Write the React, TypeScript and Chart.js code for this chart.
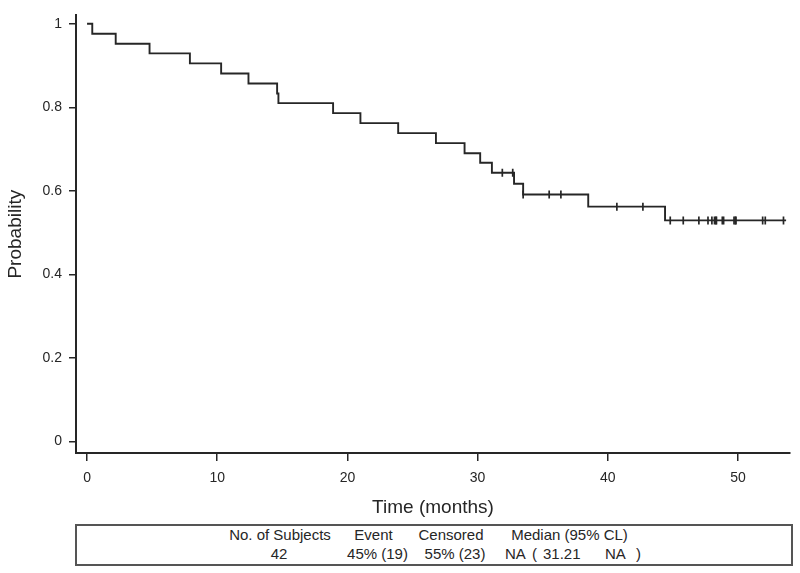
import React, { useEffect, useRef } from "react";
import { Chart, registerables } from "chart.js";

Chart.register(...registerables);

// Kaplan-Meier step points (time in months, survival probability)
const eventTimes = [0, 0.4, 2.2, 4.8, 7.9, 10.3, 12.4, 14.6, 14.7, 18.9, 21.0, 23.9, 26.8, 29.0, 30.2, 31.1, 32.8, 33.5, 38.5, 44.4, 53.7];
const survival = [1, 0.976, 0.952, 0.929, 0.905, 0.881, 0.857, 0.833, 0.81, 0.786, 0.762, 0.738, 0.714, 0.69, 0.667, 0.643, 0.617, 0.591, 0.562, 0.529, 0.529];

// Censored observations
const censorTimes = [31.9, 32.7, 33.5, 35.5, 36.4, 40.7, 42.7, 44.8, 45.8, 47.0, 47.7, 48.0, 48.2, 48.3, 48.35, 48.8, 48.9, 49.7, 49.8, 49.85, 51.9, 52.1, 53.5];
const censorSurvival = [0.643, 0.643, 0.591, 0.591, 0.591, 0.562, 0.562, 0.529, 0.529, 0.529, 0.529, 0.529, 0.529, 0.529, 0.529, 0.529, 0.529, 0.529, 0.529, 0.529, 0.529, 0.529, 0.529];

const xTicks = [0, 10, 20, 30, 40, 50];
const yTicks = [0, 0.2, 0.4, 0.6, 0.8, 1];
const xTitle = "Time (months)";
const yTitle = "Probability";

const tableHeaders = ["No. of Subjects", "Event", "Censored", "Median (95% CL)"];
const tableValues = ["42", "45% (19)", "55% (23)"];
const medianParts = ["NA", "(", "31.21", "NA", ")"];

const FONT = '"Liberation Sans", Arial, Helvetica, sans-serif';
const INK = "#262626";

// layout (pixel positions of the summary table)
const headerCenters = [280, 373.5, 451, 569.5];
const valueCenters = [279, 377.5, 455];
const medianLefts = [505, 532, 543, 605, 636];

export default function App() {
  const ref = useRef<HTMLCanvasElement>(null);

  useEffect(() => {
    const chart = new Chart(ref.current as HTMLCanvasElement, {
      type: "scatter",
      data: {
        datasets: [
          {
            data: eventTimes.map((t, i) => ({ x: t, y: survival[i] })),
            showLine: true,
            stepped: "before",
            borderColor: INK,
            borderWidth: 1.9,
            pointRadius: 0,
            pointHoverRadius: 0,
            fill: false,
          },
          {
            data: censorTimes.map((t, i) => ({ x: t, y: censorSurvival[i] })),
            showLine: false,
            pointStyle: "line",
            rotation: 90,
            pointRadius: 4,
            pointHoverRadius: 4,
            borderColor: INK,
            backgroundColor: INK,
            borderWidth: 1.7,
          },
        ],
      },
      options: {
        animation: false,
        responsive: false,
        maintainAspectRatio: false,
        events: [],
        layout: { padding: { left: 0, right: 10, top: 8.6, bottom: 0 } },
        plugins: { legend: { display: false }, tooltip: { enabled: false } },
        scales: {
          x: {
            type: "linear",
            min: -0.85,
            max: 54,
            afterBuildTicks: (s: any) => {
              s.ticks = xTicks.map((v) => ({ value: v }));
            },
            afterFit: (s: any) => {
              s.height = 67;
            },
            grid: { drawOnChartArea: false, drawTicks: true, tickLength: 8, color: INK, lineWidth: 1.5 },
            border: { display: true, color: INK, width: 2 },
            ticks: {
              padding: 8.5,
              color: INK,
              font: { family: FONT, size: 14 },
              maxRotation: 0,
              autoSkip: false,
              callback: (v: any) => String(v),
            },
            title: {
              display: true,
              text: xTitle,
              color: INK,
              font: { family: FONT, size: 19 },
              padding: { top: 0, bottom: 1 },
            },
          },
          y: {
            type: "linear",
            min: -0.028,
            max: 1.02,
            afterBuildTicks: (s: any) => {
              s.ticks = yTicks.map((v) => ({ value: v }));
            },
            afterFit: (s: any) => {
              s.width = 76;
            },
            grid: { drawOnChartArea: false, drawTicks: true, tickLength: 7, color: INK, lineWidth: 1.5 },
            border: { display: true, color: INK, width: 2 },
            ticks: {
              padding: 7,
              color: INK,
              font: { family: FONT, size: 14 },
              autoSkip: false,
              callback: (v: any) => String(v),
            },
            title: {
              display: true,
              text: yTitle,
              color: INK,
              font: { family: FONT, size: 19 },
              padding: { top: 4.6, bottom: 0 },
            },
          },
        },
      },
    } as any);
    return () => chart.destroy();
  }, []);

  const textStyle = (center: number, top: number): React.CSSProperties => ({
    position: "absolute",
    left: center,
    top,
    transform: "translateX(-50%)",
    whiteSpace: "pre",
    fontFamily: FONT,
    fontSize: 15,
    lineHeight: "16px",
    color: INK,
  });

  return (
    <div
      style={{
        position: "fixed",
        left: 0,
        top: 0,
        width: 800,
        height: 573,
        background: "#fff",
        overflow: "hidden",
      }}
    >
      <canvas ref={ref} width={800} height={520} style={{ display: "block", width: 800, height: 520 }} />
      <div
        style={{
          position: "absolute",
          left: 75,
          top: 524,
          width: 718,
          height: 42,
          boxSizing: "border-box",
          border: "2px solid #555",
        }}
      />
      {tableHeaders.map((h, i) => (
        <div key={"h" + i} style={textStyle(headerCenters[i], 527)}>
          {h}
        </div>
      ))}
      {tableValues.map((v, i) => (
        <div key={"v" + i} style={textStyle(valueCenters[i], 546)}>
          {v}
        </div>
      ))}
      {medianParts.map((p, i) => (
        <div
          key={"m" + i}
          style={{
            position: "absolute",
            left: medianLefts[i],
            top: 546,
            whiteSpace: "pre",
            fontFamily: FONT,
            fontSize: 15,
            lineHeight: "16px",
            color: INK,
          }}
        >
          {p}
        </div>
      ))}
    </div>
  );
}
